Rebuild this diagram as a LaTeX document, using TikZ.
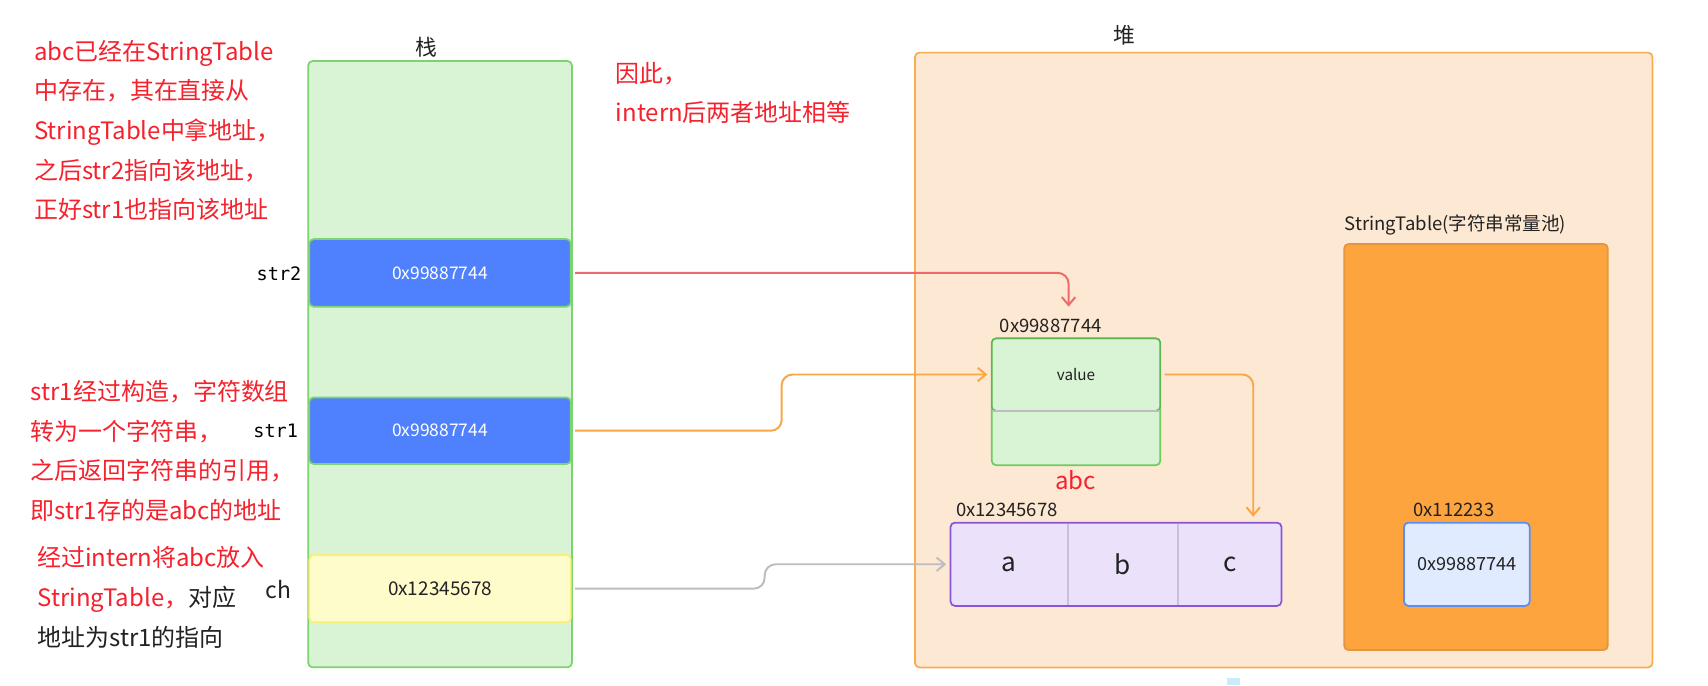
\documentclass[tikz,border=0pt]{standalone}
\usepackage{fontspec}
\setmainfont{Noto Sans CJK SC}
\newfontfamily\monof{DejaVu Sans Mono}
\usetikzlibrary{arrows.meta}
\definecolor{redtxt}{HTML}{F5222D}
\definecolor{darktxt}{HTML}{222222}
\definecolor{stkfill}{HTML}{D9F3D5}
\definecolor{stkline}{HTML}{7DD36F}
\definecolor{bluefill}{HTML}{4F81FE}
\definecolor{yelfill}{HTML}{FFFCCC}
\definecolor{yelline}{HTML}{F8F07A}
\definecolor{heapfill}{HTML}{FDE9D3}
\definecolor{heapline}{HTML}{F9AC50}
\definecolor{stfill}{HTML}{FDA43E}
\definecolor{stline}{HTML}{E2963E}
\definecolor{objline}{HTML}{6DCB60}
\definecolor{objtopline}{HTML}{5DB552}
\definecolor{arrfill}{HTML}{EBE1FA}
\definecolor{arrline}{HTML}{8955D6}
\definecolor{divline}{HTML}{C9C2D6}
\definecolor{lbfill}{HTML}{E1EBFF}
\definecolor{lbline}{HTML}{5B8EF0}
\definecolor{redarrow}{HTML}{EE6A6A}
\definecolor{orgarrow}{HTML}{F9A645}
\definecolor{grayarrow}{HTML}{BDBDBD}
\definecolor{cyanmark}{HTML}{C8ECFA}
\begin{document}
\begin{tikzpicture}[x=0.5pt,y=-0.5pt,
  box/.style={draw, rounded corners=2pt, inner sep=0pt, outer sep=0pt, line width=0.8pt},
  rednote/.style={anchor=north west, inner sep=0pt, align=left, text=redtxt,
    font=\fontsize{11}{18.2}\selectfont},
  addr/.style={inner sep=0pt, text=darktxt, font=\fontsize{8.5}{10}\selectfont},
  conn/.style={line width=0.9pt, rounded corners=5pt, shorten <=2pt,
    -{Straight Barb[length=3.7pt,width=6.2pt]}}]
\useasboundingbox[fill=white] (0,0) rectangle (1568,629);

% notes
\node[rednote] (n1) at (31,36.5) {abc已经在StringTable\\中存在，其在直接从\\StringTable中拿地址，\\之后str2指向该地址，\\正好str1也指向该地址};
\node[rednote] (n2) at (28,348.5) {str1经过构造，字符数组\\转为一个字符串，\\之后返回字符串的引用，\\即str1存的是abc的地址};
\node[rednote] (n3) at (34,501.5) {经过intern将abc放入\\StringTable，\textcolor{darktxt}{对应}\\\textcolor{darktxt}{地址为str1的指向}};
\node[rednote] (n4) at (565,56.5) {因此，\\intern后两者地址相等};

% stack
\node[box, fill=stkfill, draw=stkline, minimum width=121pt, minimum height=278.3pt] (stack) at (404,334.3) {};
\node[font=\fontsize{10}{12}\selectfont, text=darktxt] (stacklbl) at (391,43) {栈};
\node[box, fill=bluefill, draw=stkline, minimum width=120pt, minimum height=31pt, text=white, font=\fontsize{8}{10}\selectfont] (str2) at (404,250.5) {0x99887744};
\node[box, fill=bluefill, draw=stkline, minimum width=120pt, minimum height=30.6pt, text=white, font=\fontsize{8}{10}\selectfont] (str1) at (404,395.4) {0x99887744};
\node[box, fill=yelfill, draw=yelline, minimum width=120pt, minimum height=30.9pt, text=darktxt, font=\fontsize{8.7}{10}\selectfont] (ch) at (404,540.4) {0x12345678};
\node[anchor=east, inner sep=0pt, font=\monof\fontsize{8.5}{10}\selectfont] (str2lbl) at (277,251) {str2};
\node[anchor=east, inner sep=0pt, font=\monof\fontsize{8.5}{10}\selectfont] (str1lbl) at (274,396) {str1};
\node[anchor=east, inner sep=0pt, text=darktxt, font=\fontsize{10.5}{12}\selectfont] (chlbl) at (268,541) {ch};

% heap
\node[box, fill=heapfill, draw=heapline, minimum width=338.5pt, minimum height=282.2pt] (heap) at (1178.5,330.5) {};
\node[font=\fontsize{10}{12}\selectfont, text=darktxt] (heaplbl) at (1032,32) {堆};

% StringTable
\node[addr, anchor=west] (stlbl) at (1234,206.6) {StringTable(字符串常量池)};
\node[box, fill=stfill, draw=stline, minimum width=121pt, minimum height=186.4pt] (st) at (1355,410.4) {};
\node[addr, anchor=west] (lbaddr) at (1297,468) {0x112233};
\node[box, fill=lbfill, draw=lbline, minimum width=57.7pt, minimum height=38.2pt, text=darktxt, font=\fontsize{8.3}{10}\selectfont] (lb) at (1346.6,518) {0x99887744};

% object
\node[addr, anchor=west] (objaddr) at (917.5,299) {0x99887744};
\node[box, fill=stkfill, draw=objline, minimum width=77.4pt, minimum height=58.2pt] (obj) at (987.8,368.8) {};
\node[box, draw=objtopline, line width=0.6pt, minimum width=77.4pt, minimum height=33.2pt, text=darktxt, font=\fontsize{7}{9}\selectfont] (objtop) at (987.8,343.8) {value};
\draw[grayarrow, line width=0.8pt] (objtop.south west) -- (objtop.south east);
\node[text=redtxt, font=\fontsize{11}{12}\selectfont] (abc) at (987.5,440.6) {abc};

% array
\node[addr, anchor=west] (arraddr) at (877.3,468) {0x12345678};
\node[box, fill=arrfill, draw=arrline, minimum width=151.9pt, minimum height=38.2pt] (arr) at (1024.5,518) {};
\node[text=darktxt, font=\fontsize{12}{14}\selectfont] (ca) at (926.5,518) {a};
\node[text=darktxt, font=\fontsize{12}{14}\selectfont] (cb) at (1031,518) {b};
\node[text=darktxt, font=\fontsize{12}{14}\selectfont] (cc) at (1129,518) {c};
\coordinate (d1t) at (980.4,480.6);
\coordinate (d1b) at (980.4,555.5);
\coordinate (d2t) at (1081.7,480.6);
\coordinate (d2b) at (1081.7,555.5);
\draw[divline, line width=0.8pt] (d1t) -- (d1b);
\draw[divline, line width=0.8pt] (d2t) -- (d2b);

% stray mark
\fill[cyanmark] (1126.5,622.4) rectangle (1138,629);

% connectors
\coordinate (redend) at (981,281.5);
\draw[conn, redarrow] (str2.east) -| (redend);
\coordinate (ob1) at (717.6,395.4);
\coordinate (ob2) at (717.6,343.8);
\draw[conn, orgarrow, shorten >=2pt] (str1.east) -- (ob1) -- (ob2) -- (objtop.west);
\coordinate (o2end) at (1150.5,479.8);
\draw[conn, orgarrow, shorten >=2.7pt] (objtop.east) -| (o2end);
\coordinate (gb1) at (702,540.4);
\coordinate (gb2) at (702,518);
\draw[conn, grayarrow, shorten >=2pt] (ch.east) -- (gb1) -- (gb2) -- (arr.west);
\end{tikzpicture}
\end{document}
